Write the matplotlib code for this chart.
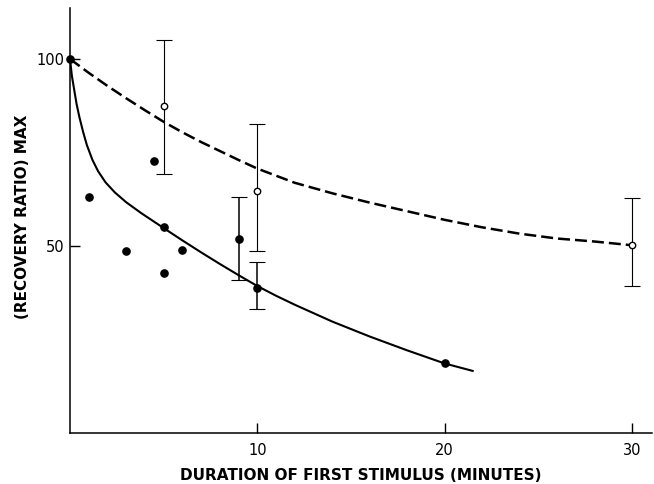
import matplotlib.pyplot as plt

# individual measurements (filled circles)
dots_x = [0, 1, 3, 4.5, 5, 5, 6, 9, 10, 20]
dots_y = [100, 63, 48.7, 72.7, 55, 42.9, 49, 52, 38.9, 18.6]

# filled points that carry error bars
err_dots_x = [9, 10]
err_dots_y = [52, 38.9]
err_dots_lo = [41, 33.1]
err_dots_hi = [63, 45.8]

# mean values (open circles) with error bars
open_x = [5, 10, 30]
open_y = [87.3, 64.6, 50.2]
open_lo = [69.3, 48.7, 39.3]
open_hi = [105.2, 82.5, 62.9]

# solid curve
solid_x = [0, 0.1, 0.2, 0.35, 0.5, 0.7, 0.9, 1.2, 1.5, 1.9, 2.4, 3.0, 3.8, 5.0, 6.0,
           7.0, 8.0, 9.0, 10.0, 11.0, 12.0, 14.0, 16.0, 18.0, 20.0, 21.5]
solid_y = [100, 95.5, 92.5, 88, 84.5, 80.5, 77, 73, 70, 67, 64.3, 61.7, 58.8, 54.8, 51.5,
           48.3, 45.2, 42.2, 39.3, 36.7, 34.3, 29.8, 25.8, 22.1, 18.6, 16.6]

# dashed curve
dash_x = [0, 1, 2, 3, 4, 5, 6, 7, 8, 9, 10, 12, 14, 16, 18, 20, 22, 24, 26, 28, 30]
dash_y = [100, 96.3, 92.8, 89.5, 86.3, 83.2, 80.4, 77.8, 75.4, 73, 70.7, 66.9, 64.1,
          61.6, 59.3, 57.0, 55.0, 53.3, 52.0, 51.2, 50.2]

x_ticks = [10, 20, 30]
y_ticks = [50, 100]

fig = plt.figure(figsize=(6.54, 4.84), dpi=100)
ax = fig.add_axes([70 / 654, 51 / 484, 582 / 654, 425 / 484])

ax.plot(solid_x, solid_y, color='black', lw=1.5)
ax.plot(dash_x, dash_y, color='black', lw=1.8, linestyle=(0, (4.8, 2.0)))

# error bars
lo = [y - l for y, l in zip(open_y, open_lo)]
hi = [h - y for y, h in zip(open_y, open_hi)]
ax.errorbar(open_x, open_y, yerr=[lo, hi], fmt='none', ecolor='black',
            elinewidth=0.8, capsize=5.5, capthick=0.8)
lo = [y - l for y, l in zip(err_dots_y, err_dots_lo)]
hi = [h - y for y, h in zip(err_dots_y, err_dots_hi)]
ax.errorbar(err_dots_x, err_dots_y, yerr=[lo, hi], fmt='none', ecolor='black',
            elinewidth=1.1, capsize=5.5, capthick=0.8)

ax.plot(dots_x, dots_y, 'o', color='black', ms=5.2, zorder=5, clip_on=False)
ax.plot(open_x, open_y, 'o', mfc='white', mec='black', mew=1.0, ms=4.6, zorder=5)

ax.set_xlim(0, 582 / 18.73)
ax.set_ylim(0, 425 / 3.74)
ax.set_xticks(x_ticks)
ax.set_yticks(y_ticks)

for s in ['top', 'right']:
    ax.spines[s].set_visible(False)
for s in ['left', 'bottom']:
    ax.spines[s].set_linewidth(1.1)

ax.tick_params(axis='both', direction='in', length=7, width=1.0, labelsize=10.5)
ax.tick_params(axis='x', pad=7)
ax.tick_params(axis='y', pad=4)

ax.set_xlabel('DURATION OF FIRST STIMULUS (MINUTES)', fontsize=11, fontweight='bold')
ax.set_ylabel('(RECOVERY RATIO) MAX', fontsize=11, fontweight='bold')
ax.xaxis.label.set_va('center')
ax.yaxis.label.set_va('center')
ax.xaxis.set_label_coords(0.5, -0.099)
ax.yaxis.set_label_coords(-0.081, 0.508)

fig.savefig('out.png', dpi=100)
